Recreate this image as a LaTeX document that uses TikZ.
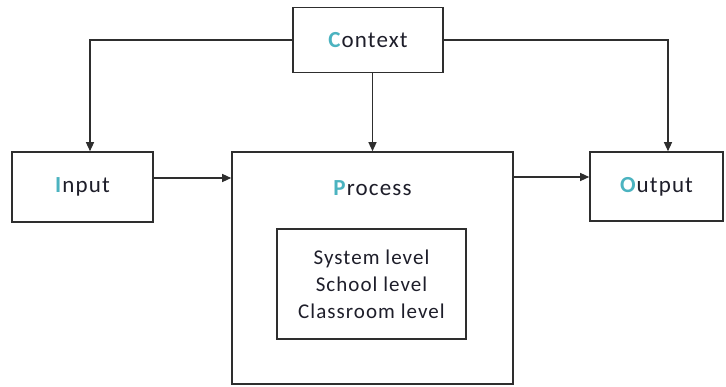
\documentclass[tikz,border=0pt]{standalone}
\usepackage{fontspec}
\setmainfont{Carlito}
\newfontfamily\spaced[LetterSpace=5]{Carlito}
\usetikzlibrary{arrows.meta}
\definecolor{teal1}{HTML}{4BB3C0}
\definecolor{ink}{HTML}{2E2E2E}
\definecolor{tx}{HTML}{1E1E2A}
\begin{document}
\begin{tikzpicture}[x=1pt,y=-1pt,
  box/.style={draw=ink,line width=1.6pt,fill=white,inner sep=0pt},
  conn/.style={draw=ink,line width=1.3pt,-{Triangle[length=9pt,width=8pt]}},
  lab/.style={font=\spaced\fontsize{23}{27}\selectfont,text=tx}]
\useasboundingbox (0,0) rectangle (726,387);
\newcommand\fl[1]{\textcolor{teal1}{\textbf{#1}}}
\node[box,minimum width=150pt,minimum height=65pt,lab] (ctx) at (368,40) {\fl{C}ontext};
\node[box,minimum width=141pt,minimum height=70pt,lab] (inp) at (82.5,187) {\fl{I}nput};
\node[box,minimum width=281pt,minimum height=232pt] (proc) at (372.5,268) {};
\node[lab] (plab) at (372.5,188) {\fl{P}rocess};
\node[box,minimum width=189pt,minimum height=110pt,lab,align=center,font=\spaced\fontsize{21}{27}\selectfont] (lev) at (371.5,284) {System level\\School level\\Classroom level};
\node[box,minimum width=133pt,minimum height=69pt,lab] (out) at (656.5,186.5) {\fl{O}utput};
\coordinate (ci) at (90,0);
\coordinate (co) at (668,0);
\draw[conn] (ctx.west) -| (ci |- inp.north);
\draw[conn] (ctx.east) -| (co |- out.north);
\draw[conn] (ctx.south -| proc.north) -- (proc.north);
\draw[conn] (inp.east |- 0,178) -- (proc.west |- 0,178);
\draw[conn] (proc.east |- 0,177) -- (out.west |- 0,177);
\end{tikzpicture}
\end{document}
